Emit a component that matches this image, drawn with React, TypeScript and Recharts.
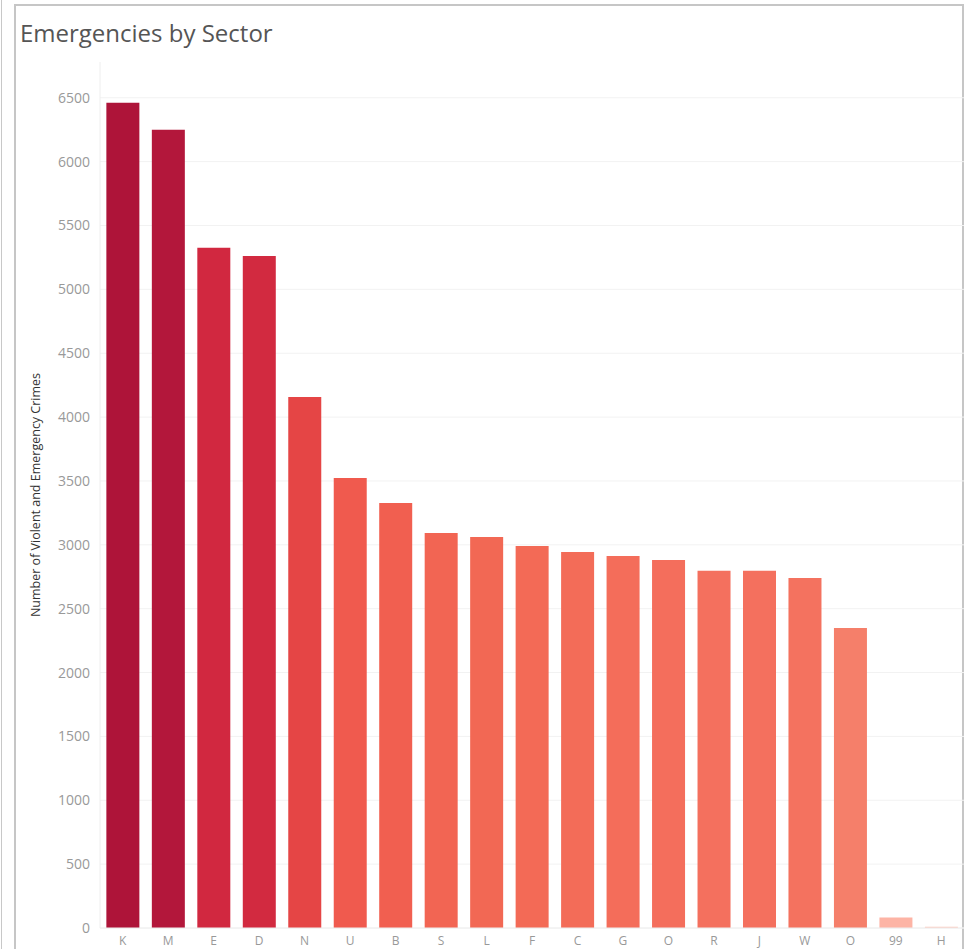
import { BarChart, Bar, XAxis, YAxis, CartesianGrid, Cell, Label } from "recharts"

const sectors = ["K", "M", "E", "D", "N", "U", "B", "S", "L", "F", "C", "G", "O", "R", "J", "W", "O", "99", "H"]
const crimes = [6460, 6250, 5325, 5262, 4158, 3524, 3328, 3093, 3062, 2991, 2944, 2913, 2882, 2796, 2796, 2741, 2349, 82, 10]
const barColors = [
  "#ae1439", "#b3173b", "#d12840", "#d22a40", "#e54545", "#f05a4e", "#f15f50", "#f26553", "#f26854",
  "#f36a56", "#f36c58", "#f46d5a", "#f46e5c", "#f4705e", "#f4705e", "#f4725f", "#f57f6a", "#fdb4a5", "#fcc8bc",
]
const yTicks = [0, 500, 1000, 1500, 2000, 2500, 3000, 3500, 4000, 4500, 5000, 5500, 6000, 6500]

const data = sectors.map((s, i) => ({ idx: i, sector: s, crimes: crimes[i] }))

const font = "'Open Sans', sans-serif"

export default function App() {
  return (
    <div style={{ position: "fixed", left: 0, top: 0, width: 964, height: 949, overflow: "hidden", background: "#fff", fontFamily: font }}>
      <div style={{ position: "absolute", left: 1, top: 0, width: 1, height: 949, background: "#c8c8c8" }} />
      <div style={{ position: "absolute", left: 14, top: 4, width: 946, height: 960, border: "2px solid #c6c6c6", borderBottom: "none" }} />
      <div style={{ position: "absolute", left: 20, top: 16, fontSize: 24, color: "#555", fontFamily: font }}>
        Emergencies by Sector
      </div>
      <div style={{ position: "absolute", left: 0, top: 0 }}>
        <BarChart width={964} height={949} data={data} margin={{ top: 62, right: 0, bottom: 0, left: 0 }} barCategoryGap="14%">
          <CartesianGrid vertical={false} stroke="#f2f2f2" horizontalValues={yTicks} />
          <XAxis
            dataKey="idx"
            tickFormatter={(i: number) => sectors[i]}
            height={21}
            tickLine={false}
            axisLine={{ stroke: "#eeeeee" }}
            tickMargin={2}
            interval={0}
            tick={{ fill: "#999", fontSize: 12, fontFamily: font }}
          />
          <YAxis
            width={100}
            domain={[0, 6780]}
            ticks={yTicks}
            tickLine={false}
            tickSize={0}
            tickMargin={10}
            axisLine={{ stroke: "#eeeeee" }}
            tick={{ fill: "#999", fontSize: 14, fontFamily: font }}
          >
            <Label
              value="Number of Violent and Emergency Crimes"
              angle={-90}
              position="insideLeft"
              offset={36}
              style={{ textAnchor: "middle", fill: "#333", fontSize: 12.5, fontFamily: font }}
            />
          </YAxis>
          <Bar dataKey="crimes" isAnimationActive={false}>
            {data.map((d, i) => (
              <Cell key={d.idx} fill={barColors[i]} />
            ))}
          </Bar>
        </BarChart>
      </div>
    </div>
  )
}
